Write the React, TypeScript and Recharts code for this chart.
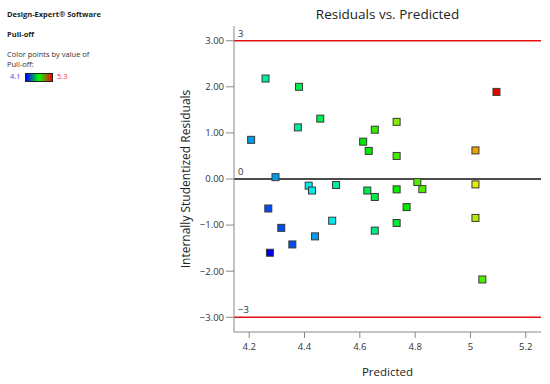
import React from 'react';
import { ScatterChart, Scatter, XAxis, YAxis, ReferenceLine } from 'recharts';

const predicted = [4.207, 4.259, 4.295, 4.38, 4.376, 4.457, 4.612, 4.632, 5.094, 4.733, 4.654, 4.733, 5.018, 4.415, 4.427, 4.514, 4.269, 4.316, 4.275, 4.356, 4.438, 4.5, 4.627, 4.654, 4.733, 4.808, 4.826, 5.018, 4.769, 4.733, 4.654, 5.018, 5.043];
const residuals = [0.85, 2.18, 0.04, 2.0, 1.12, 1.31, 0.81, 0.61, 1.89, 1.24, 1.07, 0.5, 0.62, -0.145, -0.25, -0.13, -0.64, -1.06, -1.6, -1.42, -1.245, -0.905, -0.25, -0.39, -0.225, -0.065, -0.22, -0.117, -0.61, -0.955, -1.12, -0.845, -2.18];
const pullOff = [4.3, 4.5, 4.3, 4.6, 4.5, 4.6, 4.7, 4.7, 5.3, 4.87, 4.77, 4.79, 5.09, 4.4, 4.4, 4.5, 4.2, 4.2, 4.1, 4.2, 4.3, 4.4, 4.6, 4.61, 4.71, 4.8, 4.8, 5.0, 4.7, 4.63, 4.53, 4.93, 4.8];

const xTicks = [4.2, 4.4, 4.6, 4.8, 5, 5.2];
const yTicks = [3, 2, 1, 0, -1, -2, -3];
const colorMin = 4.1;
const colorMax = 5.3;

const data = predicted.map((p, i) => ({ x: p, y: residuals[i], v: pullOff[i] }));

// blue -> cyan -> green -> yellow -> red
const stops = [
  [0, 0, 255],
  [0, 255, 255],
  [0, 255, 0],
  [255, 255, 0],
  [255, 0, 0],
];
const colorFor = (v: number) => {
  const t = Math.max(0, Math.min(1, (v - colorMin) / (colorMax - colorMin))) * (stops.length - 1);
  const i = Math.min(stops.length - 2, Math.floor(t));
  const f = t - i;
  const c = stops[i].map((a, k) => Math.round((a + (stops[i + 1][k] - a) * f) * 0.92));
  return `rgb(${c[0]},${c[1]},${c[2]})`;
};

const fmtY = (v: number) => (v < 0 ? '\u2212' : '') + Math.abs(v).toFixed(2);

const Square = (props: any) => {
  const { cx, cy, payload } = props;
  return <rect x={cx - 3.5} y={cy - 3.5} width={7} height={7} fill={colorFor(payload.v)} stroke="#3a3a3a" strokeWidth={1} />;
};

const font = '"Open Sans", "Noto Sans", sans-serif';

export default function App() {
  return (
    <div style={{ position: 'absolute', left: 0, top: 0, width: 550, height: 384, background: '#fff', fontFamily: font }}>
      <div style={{ position: 'absolute', left: 7, top: 9, fontSize: 7.5, fontWeight: 700, color: '#222' }}>Design-Expert® Software</div>
      <div style={{ position: 'absolute', left: 7, top: 29, fontSize: 7.5, fontWeight: 700, color: '#222' }}>Pull-off</div>
      <div style={{ position: 'absolute', left: 7, top: 49, fontSize: 7.5, color: '#333', lineHeight: '10px' }}>
        Color points by value of<br />Pull-off:
      </div>
      <div style={{ position: 'absolute', left: 10, top: 71, fontSize: 7.5, color: '#4444ff' }}>4.1</div>
      <div style={{ position: 'absolute', left: 25, top: 73, width: 26, height: 7, border: '1px solid #222', background: 'linear-gradient(to right, #0000ff, #00ff00, #ff0000)' }} />
      <div style={{ position: 'absolute', left: 57, top: 71, fontSize: 7.5, color: '#ff3030' }}>5.3</div>
      <div style={{ position: 'absolute', left: 234, width: 307, top: 5, textAlign: 'center', fontSize: 13.5, color: '#222' }}>Residuals vs. Predicted</div>
      <ScatterChart width={550} height={384} margin={{ top: 26, right: 9, bottom: 0, left: 0 }} style={{ fontFamily: font }}>
        <XAxis
          type="number"
          dataKey="x"
          domain={[4.145, 5.255]}
          ticks={xTicks}
          height={52}
          stroke="#888"
          tickSize={6}
          tickMargin={5}
          tick={{ fill: '#333', fontSize: 9.5 }}
          label={{ value: 'Predicted', position: 'center', dy: 14, fill: '#222', fontSize: 11.5 }}
        />
        <XAxis xAxisId="top" type="number" orientation="top" domain={[4.145, 5.255]} height={0} tick={false} tickLine={false} stroke="#888" />
        <YAxis
          type="number"
          dataKey="y"
          domain={[-3.32, 3.32]}
          ticks={yTicks}
          width={234}
          stroke="#888"
          tickSize={8}
          tickMargin={2}
          tickFormatter={fmtY}
          tick={{ fill: '#333', fontSize: 9.5 }}
          label={{ value: 'Internally Studentized Residuals', angle: -90, position: 'center', dx: 69, fill: '#222', fontSize: 12 }}
        />
        <YAxis yAxisId="right" type="number" orientation="right" domain={[-3.32, 3.32]} width={0} tick={false} tickLine={false} stroke="#888" />
        <ReferenceLine y={3} stroke="#e01010" strokeWidth={1.5} label={{ value: '3', position: 'insideBottomLeft', offset: 4, fill: '#333', fontSize: 9.5 }} />
        <ReferenceLine y={0} stroke="#111" strokeWidth={1.5} label={{ value: '0', position: 'insideBottomLeft', offset: 4, fill: '#333', fontSize: 9.5 }} />
        <ReferenceLine y={-3} stroke="#e01010" strokeWidth={1.5} label={{ value: '\u22123', position: 'insideBottomLeft', offset: 4, fill: '#333', fontSize: 9.5 }} />
        <Scatter data={data} shape={Square} isAnimationActive={false} />
      </ScatterChart>
    </div>
  );
}
